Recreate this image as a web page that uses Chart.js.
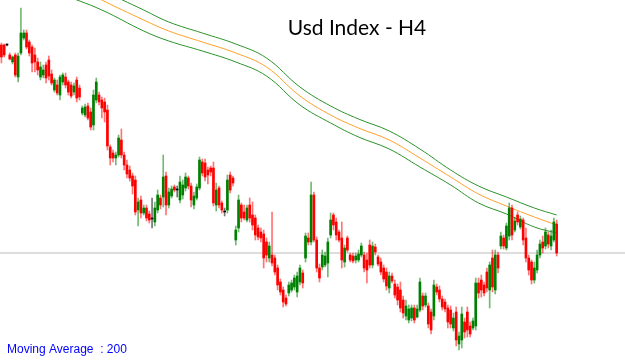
<!DOCTYPE html>
<html>
<head>
<meta charset="utf-8">
<script src="https://cdn.jsdelivr.net/npm/chart.js@4/dist/chart.umd.min.js"></script>
<style>
  body { margin:0; background:#fff; }
  canvas { display:block; }
</style>
</head>
<body>
<canvas id="chart" width="625" height="360"></canvas>
<script>
const chartTitle = 'Usd Index - H4';
const maLabel = 'Moving Average  : 200';
const bidPrice = 93.47;

// H4 candles, oldest first
const open = [
  95.55,95.55,95.55,95.45,95.38,95.45,95.23,95.47,95.62,95.67,
  95.58,95.53,95.45,95.38,95.23,95.25,95.35,95.40,95.26,95.10,
  95.15,95.05,95.18,95.23,95.18,95.15,95.08,95.20,95.12,94.87,
  94.85,94.94,94.88,94.75,95.00,95.05,95.00,94.98,94.90,94.53,
  94.47,94.42,94.45,94.60,94.45,94.35,94.30,94.24,94.20,93.90,
  94.00,93.87,93.92,93.86,93.81,93.78,93.90,94.02,94.03,94.24,
  93.95,94.04,94.13,94.10,94.00,94.05,94.12,94.22,94.14,93.95,
  94.02,94.12,94.38,94.37,94.30,94.32,94.32,93.95,94.12,93.97,
  93.88,93.90,94.25,94.22,93.60,93.72,93.95,93.88,93.80,93.95,
  93.85,93.82,93.72,93.68,93.66,93.58,93.42,93.45,93.42,93.32,
  93.18,93.10,93.02,93.07,93.10,93.13,93.08,93.18,93.27,93.42,
  93.62,93.58,94.05,93.60,93.32,93.33,93.35,93.37,93.65,93.85,
  93.78,93.68,93.62,93.38,93.62,93.45,93.44,93.40,93.40,93.45,
  93.45,93.40,93.55,93.35,93.53,93.43,93.38,93.32,93.28,93.12,
  93.24,93.16,93.13,93.10,93.00,92.84,92.80,92.82,92.92,92.83,
  92.90,93.04,92.95,92.94,92.88,92.84,93.13,93.10,93.01,92.98,
  92.92,92.90,92.72,92.88,92.56,92.60,92.78,92.88,92.74,92.72,
  92.74,93.17,93.20,93.15,93.28,93.10,93.42,93.10,93.45,93.54,
  93.62,93.52,93.64,93.92,93.70,93.85,93.73,93.80,93.62,93.42,
  93.38,93.20,93.30,93.45,93.58,93.54,93.65,93.54,93.60,93.76
];
const high = [
  95.57,95.56,95.56,95.47,95.44,95.47,95.47,95.92,95.70,95.70,
  95.60,95.55,95.52,95.42,95.38,95.35,95.38,95.44,95.30,95.22,
  95.20,95.25,95.27,95.27,95.20,95.18,95.17,95.23,95.15,94.94,
  94.96,94.97,94.92,95.10,95.22,95.08,95.03,95.02,94.95,94.55,
  94.50,94.48,94.65,94.71,94.48,94.40,94.34,94.27,94.24,94.02,
  94.04,93.95,93.95,93.89,94.02,93.98,94.10,94.05,94.45,94.28,
  94.12,94.14,94.15,94.14,94.24,94.20,94.27,94.24,94.17,94.08,
  94.16,94.43,94.41,94.41,94.33,94.34,94.38,94.17,94.14,93.99,
  93.92,94.25,94.28,94.24,93.74,94.05,93.97,93.95,93.95,94.02,
  93.98,93.85,93.75,93.72,93.70,93.62,93.58,93.88,93.45,93.35,
  93.21,93.13,93.05,93.18,93.20,93.25,93.28,93.35,93.30,93.67,
  93.67,94.18,94.08,93.63,93.36,93.50,93.48,93.62,93.87,93.87,
  93.82,93.70,93.78,93.55,93.64,93.47,93.47,93.47,93.50,93.57,
  93.48,93.47,93.60,93.58,93.56,93.45,93.42,93.35,93.32,93.28,
  93.27,93.20,93.16,93.18,93.04,93.00,92.95,92.95,92.95,92.95,
  93.22,93.07,93.07,92.97,92.91,93.20,93.16,93.14,93.04,93.01,
  92.95,92.94,92.87,92.93,92.68,92.93,92.82,92.93,92.78,92.82,
  93.22,93.22,93.25,93.18,93.32,93.38,93.50,93.50,93.48,93.68,
  93.65,93.77,93.97,93.95,93.83,93.88,93.84,93.82,93.72,93.45,
  93.40,93.38,93.50,93.60,93.64,93.72,93.68,93.70,93.82,93.80
];
const low = [
  95.37,95.43,95.54,95.40,95.36,95.23,95.18,95.45,95.60,95.51,
  95.44,95.28,95.28,95.25,95.20,95.22,95.17,95.20,95.15,95.08,
  95.05,95.00,95.15,95.12,95.05,95.02,95.05,94.98,95.00,94.85,
  94.83,94.80,94.70,94.70,94.97,94.95,94.82,94.78,94.50,94.35,
  94.38,94.35,94.43,94.42,94.30,94.22,94.19,94.06,93.85,93.74,
  93.82,93.85,93.79,93.77,93.72,93.74,93.87,93.91,93.93,93.85,
  93.92,94.02,94.08,94.03,93.97,94.01,94.09,94.11,93.93,93.91,
  94.00,94.10,94.24,94.19,94.16,94.24,93.94,93.89,93.92,93.87,
  93.84,93.87,94.07,94.14,93.55,93.68,93.78,93.80,93.78,93.78,
  93.70,93.60,93.60,93.58,93.32,93.38,93.38,93.34,93.25,93.10,
  93.05,92.93,92.94,93.04,93.08,93.10,93.03,93.15,93.12,93.38,
  93.55,93.55,93.58,93.28,93.18,93.30,93.33,93.23,93.62,93.70,
  93.60,93.58,93.32,93.33,93.48,93.38,93.37,93.37,93.38,93.43,
  93.28,93.17,93.32,93.32,93.45,93.34,93.25,93.18,93.10,93.07,
  93.17,93.02,92.95,92.88,92.82,92.80,92.77,92.79,92.77,92.82,
  92.88,92.90,92.93,92.72,92.66,92.80,93.05,92.98,92.90,92.88,
  92.72,92.72,92.69,92.54,92.50,92.52,92.62,92.63,92.63,92.70,
  92.70,93.02,93.03,93.04,93.08,92.92,93.08,93.06,93.27,93.51,
  93.51,93.50,93.60,93.60,93.68,93.75,93.71,93.55,93.38,93.25,
  93.16,93.17,93.27,93.42,93.47,93.51,93.52,93.50,93.58,93.44
];
const close = [
  95.43,95.45,95.55,95.41,95.43,95.25,95.44,95.67,95.67,95.53,
  95.47,95.37,95.38,95.30,95.33,95.30,95.22,95.24,95.17,95.20,
  95.07,95.23,95.25,95.15,95.08,95.04,95.14,95.02,95.03,94.92,
  94.93,94.82,94.73,95.05,95.18,94.98,94.92,94.88,94.54,94.42,
  94.42,94.45,94.62,94.45,94.35,94.26,94.22,94.14,93.88,93.98,
  93.87,93.92,93.82,93.80,93.81,93.92,94.05,93.95,94.23,93.95,
  94.08,94.11,94.10,94.10,94.18,94.15,94.23,94.14,94.00,94.04,
  94.13,94.40,94.27,94.23,94.25,94.28,93.97,94.10,93.95,93.90,
  93.88,94.20,94.10,94.17,93.70,94.00,93.82,93.82,93.92,93.82,
  93.75,93.65,93.63,93.62,93.42,93.45,93.54,93.37,93.28,93.15,
  93.08,92.98,92.96,93.15,93.17,93.22,93.24,93.32,93.17,93.64,
  93.58,94.05,93.60,93.32,93.22,93.45,93.44,93.58,93.80,93.75,
  93.65,93.60,93.40,93.52,93.50,93.40,93.39,93.44,93.46,93.54,
  93.32,93.30,93.35,93.54,93.48,93.36,93.28,93.21,93.14,93.24,
  93.19,93.05,93.00,92.92,92.87,92.94,92.91,92.92,92.80,92.91,
  93.18,92.94,93.04,92.76,92.70,93.15,93.08,93.01,92.93,92.91,
  92.78,92.76,92.82,92.60,92.64,92.86,92.68,92.70,92.66,92.79,
  93.17,93.07,93.10,93.07,93.12,93.35,93.13,93.45,93.32,93.64,
  93.54,93.74,93.92,93.65,93.79,93.78,93.81,93.60,93.42,93.30,
  93.20,93.32,93.45,93.56,93.52,93.68,93.56,93.64,93.78,93.47
];

// moving average 200 and its envelope, read at a few candles
const maIndex = [0,21,36,51,60,72,84,95,107,118,128,139,150,161,171,181,191,199];
const maMid   = [96.50,96.22,96.00,95.80,95.69,95.58,95.47,95.33,95.04,94.85,94.72,94.60,94.42,94.23,94.06,93.94,93.83,93.75];
const maUpper = [96.60,96.32,96.10,95.90,95.78,95.67,95.56,95.42,95.13,94.94,94.81,94.69,94.51,94.30,94.14,94.03,93.92,93.85];
const maLower = [96.35,96.07,95.90,95.69,95.59,95.49,95.38,95.24,94.95,94.77,94.63,94.51,94.33,94.15,93.97,93.86,93.73,93.67];

const xMin = -0.5, xMax = 223.5;

function candleColor(i, alpha) {
  if (close[i] > open[i]) return `rgba(0,128,0,${alpha})`;
  if (close[i] < open[i]) return `rgba(255,0,0,${alpha})`;
  return `rgba(0,0,0,${alpha})`;
}

const wicks = open.map((o, i) => ({ x: i, y: [low[i], high[i]] }));
const bodies = open.map((o, i) => ({ x: i, y: [o, close[i]] }));
const maLine = arr => maIndex.map((x, k) => ({ x: x, y: arr[k] }));

const textPlugin = {
  id: 'chartText',
  afterDraw(chart) {
    const ctx = chart.ctx;
    ctx.save();
    ctx.fillStyle = '#000';
    ctx.font = '21px Lato';
    ctx.textAlign = 'center';
    ctx.textBaseline = 'alphabetic';
    ctx.fillText(chartTitle, 357, 35);
    ctx.fillStyle = '#0000ff';
    ctx.font = '12px "Liberation Sans"';
    ctx.textAlign = 'left';
    ctx.fillText(maLabel, 7, 353);
    ctx.restore();
  }
};

new Chart(document.getElementById('chart').getContext('2d'), {
  type: 'bar',
  data: {
    datasets: [
      { type:'line', data:[{x:xMin, y:bidPrice}, {x:xMax, y:bidPrice}], borderColor:'#d2d2d2', borderWidth:1.5, pointRadius:0, order:10 },
      { type:'line', data: maLine(maUpper), borderColor:'#2a922a', borderWidth:1, pointRadius:0, tension:0.4, order:5 },
      { type:'line', data: maLine(maMid), borderColor:'#ffa028', borderWidth:1, pointRadius:0, tension:0.4, order:5 },
      { type:'line', data: maLine(maLower), borderColor:'#2a922a', borderWidth:1, pointRadius:0, tension:0.4, order:5 },
      { type:'bar', data: wicks, backgroundColor: open.map((o, i) => candleColor(i, 0.55)), barThickness:1, grouped:false, borderWidth:0, order:2 },
      { type:'bar', data: bodies, backgroundColor: open.map((o, i) => candleColor(i, 1)), barThickness:2, grouped:false, borderWidth:0, minBarLength:1, order:1 }
    ]
  },
  options: {
    responsive: false,
    animation: false,
    layout: { padding: 0 },
    scales: {
      x: { type:'linear', min:xMin, max:xMax, offset:false, display:false },
      y: { min:92.40, max:96.00, display:false }
    },
    plugins: { legend:{ display:false }, tooltip:{ enabled:false } }
  },
  plugins: [textPlugin]
});
</script>
</body>
</html>
